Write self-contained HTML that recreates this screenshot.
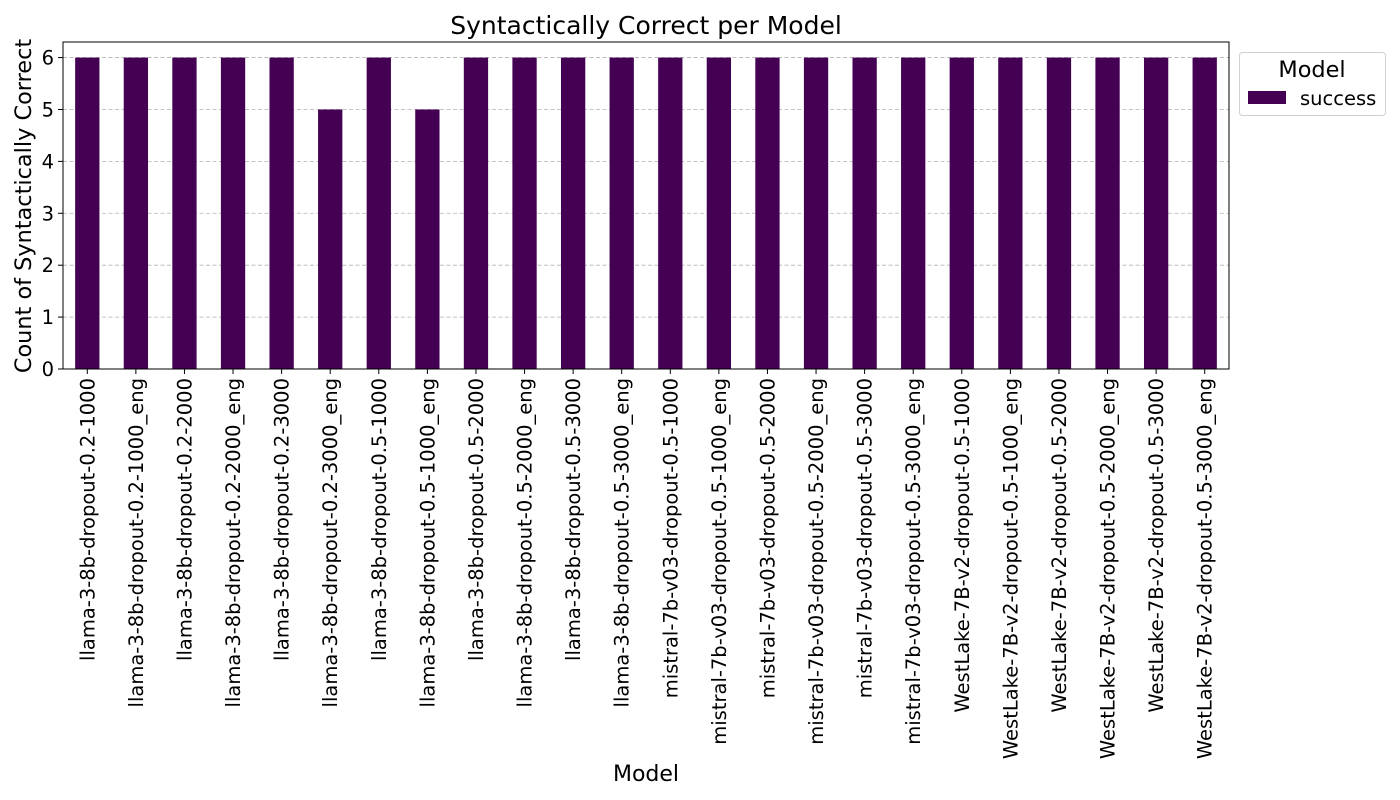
<!DOCTYPE html>
<html><head><meta charset="utf-8">
<style>
html,body{margin:0;padding:0;background:#fff;}
svg{display:block;font-family:"DejaVu Sans","Liberation Sans",sans-serif;}
</style></head>
<body>
<svg id="chart" width="1400" height="800" xmlns="http://www.w3.org/2000/svg"></svg>
<script>
const categories = ["llama-3-8b-dropout-0.2-1000","llama-3-8b-dropout-0.2-1000_eng","llama-3-8b-dropout-0.2-2000","llama-3-8b-dropout-0.2-2000_eng","llama-3-8b-dropout-0.2-3000","llama-3-8b-dropout-0.2-3000_eng","llama-3-8b-dropout-0.5-1000","llama-3-8b-dropout-0.5-1000_eng","llama-3-8b-dropout-0.5-2000","llama-3-8b-dropout-0.5-2000_eng","llama-3-8b-dropout-0.5-3000","llama-3-8b-dropout-0.5-3000_eng","mistral-7b-v03-dropout-0.5-1000","mistral-7b-v03-dropout-0.5-1000_eng","mistral-7b-v03-dropout-0.5-2000","mistral-7b-v03-dropout-0.5-2000_eng","mistral-7b-v03-dropout-0.5-3000","mistral-7b-v03-dropout-0.5-3000_eng","WestLake-7B-v2-dropout-0.5-1000","WestLake-7B-v2-dropout-0.5-1000_eng","WestLake-7B-v2-dropout-0.5-2000","WestLake-7B-v2-dropout-0.5-2000_eng","WestLake-7B-v2-dropout-0.5-3000","WestLake-7B-v2-dropout-0.5-3000_eng"];
const successValues = [6,6,6,6,6,5,6,5,6,6,6,6,6,6,6,6,6,6,6,6,6,6,6,6];
const yTicks = [0,1,2,3,4,5,6];

const svg = document.getElementById('chart');
const NS = "http://www.w3.org/2000/svg";
const L=63, R=1229, T=42, B=369, yMax=6.3;
const y = v => B - v/yMax*(B-T);
const step = (R-L)/categories.length;
const x = i => L + step*(i+0.5);
function mk(tag, attrs, text){
  const e=document.createElementNS(NS,tag);
  for(const k in attrs) e.setAttribute(k,attrs[k]);
  if(text!==undefined) e.textContent=text;
  svg.appendChild(e); return e;
}
yTicks.forEach(t=>{
  const g=mk('line',{x1:L,x2:R,y1:y(t),y2:y(t),stroke:'#a0a0a0','stroke-width':0.8,'stroke-dasharray':'4,2.5',opacity:0.8});
  
  
});
successValues.forEach((v,i)=>{
  const bw=step*0.5;
  const r=mk('rect',{x:x(i)-bw/2,y:y(v),width:bw,height:B-y(v),fill:'#440154'});
  
  
});
const fr=mk('rect',{x:L,y:T,width:R-L,height:B-T,fill:'none',stroke:'#000','stroke-width':1});


yTicks.forEach(t=>{
  mk('line',{x1:L-5,x2:L,y1:y(t),y2:y(t),stroke:'#000','stroke-width':1});
  const tx=mk('text',{x:L-9,y:y(t)+7,'text-anchor':'end','font-size':19.5},String(t));
  
  
});
categories.forEach((c,i)=>{
  mk('line',{x1:x(i),x2:x(i),y1:B,y2:B+5,stroke:'#000','stroke-width':1});
  const tx=mk('text',{x:0,y:0,'text-anchor':'end','font-size':19.5,transform:`translate(${x(i)+7},${B+9}) rotate(-90)`},c);
  
  
});
</script>
<svg style="position:absolute;left:0;top:0" width="1400" height="800" xmlns="http://www.w3.org/2000/svg">
  <text x="646" y="34" text-anchor="middle" font-size="25">Syntactically Correct per Model</text>
  <text x="646" y="781" text-anchor="middle" font-size="22">Model</text>
  <text transform="translate(31,206) rotate(-90)" text-anchor="middle" font-size="22.4">Count of Syntactically Correct</text>
  <g>
    <rect x="1239.5" y="52.5" width="146" height="63" rx="3" fill="#fff" stroke="#d0d0d0"/>
    <text x="1312" y="77" text-anchor="middle" font-size="22.4">Model</text>
    <rect x="1248" y="91" width="38" height="13" fill="#440154"/>
    <text x="1300" y="105" font-size="19.5">success</text>
  </g>
</svg>
</body></html>
